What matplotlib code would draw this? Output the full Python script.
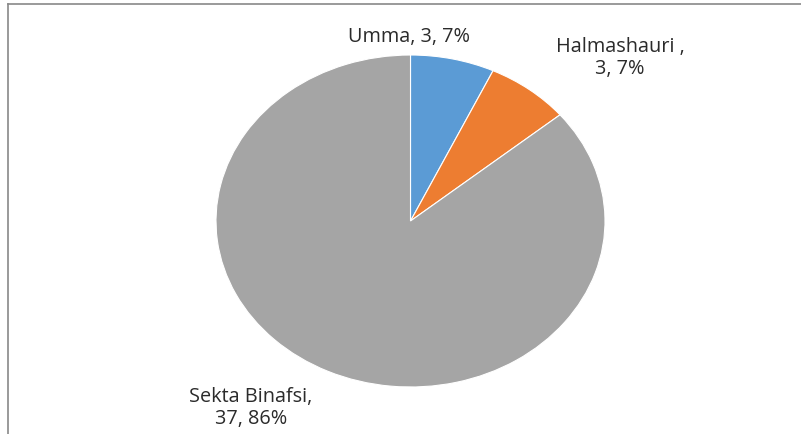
import matplotlib
matplotlib.use('Agg')
import matplotlib.pyplot as plt
from matplotlib.lines import Line2D

categories = ['Umma', 'Halmashauri ', 'Sekta Binafsi']
values = [3, 3, 37]
colors = ['#5B9BD5', '#ED7D31', '#A5A5A5']
# label text and where it sits (pixels from top-left), line break per label
label_pos = [(409, 37), (620, 58), (251, 408)]
label_wrap = [False, True, True]

W, H = 801, 435
fig = plt.figure(figsize=(W / 100, H / 100), dpi=100)
fig.patch.set_facecolor('white')

# pie bounding box in pixels (slightly elliptic, like the screenshot)
left, right, top, bottom = 216, 605, 56, 388
ax = fig.add_axes([left / W, 1 - bottom / H, (right - left) / W, (bottom - top) / H])
ax.pie(values, colors=colors, startangle=90, counterclock=False, radius=1,
       wedgeprops=dict(edgecolor='white', linewidth=0.8))
ax.set_aspect('auto')
ax.set_xlim(-1, 1)
ax.set_ylim(-1, 1)
ax.axis('off')

total = sum(values)
for name, v, (px, py), wrap in zip(categories, values, label_pos, label_wrap):
    pct = round(100 * v / total)
    sep = ',\n' if wrap else ', '
    txt = f'{name}{sep}{v}, {pct}%'
    fig.text(px / W, 1 - py / H, txt, ha='center', va='center',
             fontsize=14.3, color='#2b2b2b', family=['Open Sans', 'DejaVu Sans'],
             linespacing=1.1)

# chart area border (cut off by the screenshot)
fig.add_artist(Line2D([8 / W, 1], [1 - 5 / H, 1 - 5 / H], color='#898989', lw=1.2))
fig.add_artist(Line2D([8 / W, 8 / W], [0, 1 - 5 / H], color='#898989', lw=1.2))

fig.savefig('out.png', dpi=100, facecolor='white')
